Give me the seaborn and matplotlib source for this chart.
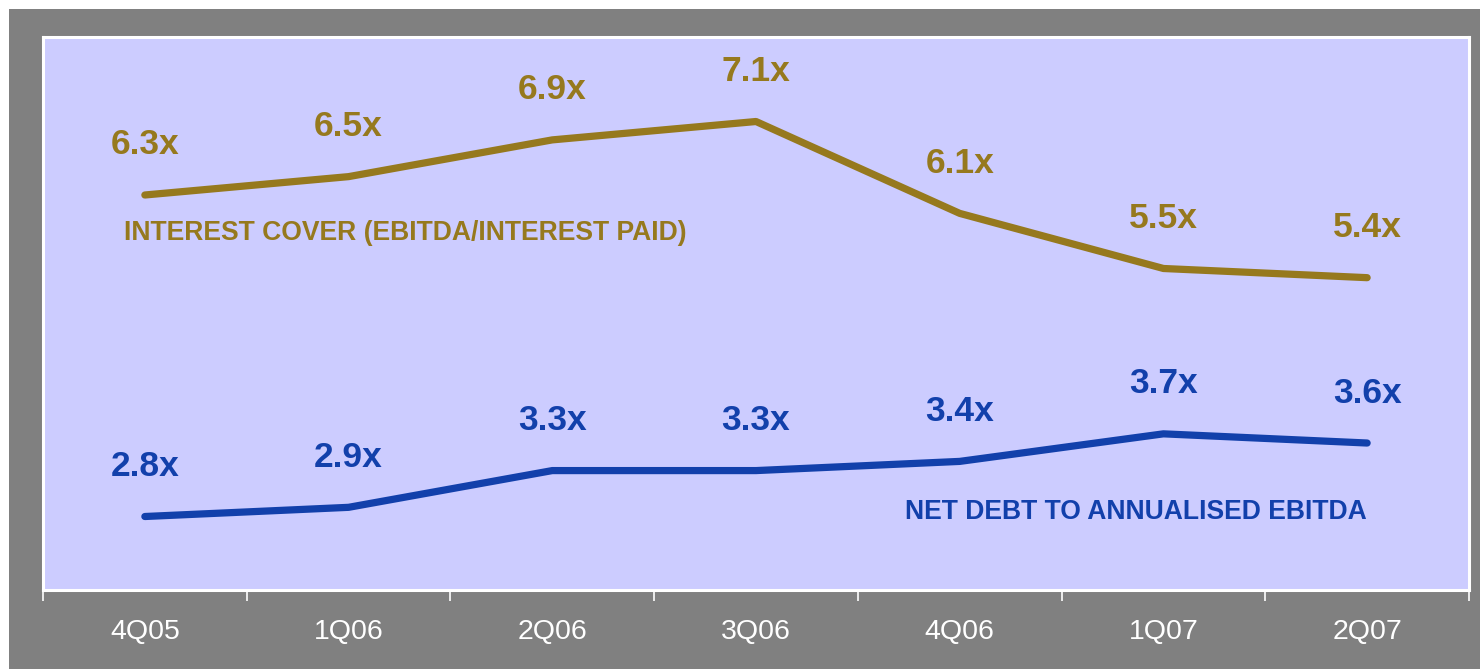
import matplotlib
matplotlib.use("Agg")
import matplotlib.pyplot as plt
import seaborn as sns
import pandas as pd

quarters = ["4Q05", "1Q06", "2Q06", "3Q06", "4Q06", "1Q07", "2Q07"]
interest_cover = [6.3, 6.5, 6.9, 7.1, 6.1, 5.5, 5.4]
net_debt_ebitda = [2.8, 2.9, 3.3, 3.3, 3.4, 3.7, 3.6]
series_names = ["INTEREST COVER (EBITDA/INTEREST PAID)", "NET DEBT TO ANNUALISED EBITDA"]

GOLD = "#96791E"
BLUE = "#1240AB"
LAV = "#CCCCFF"
GRAY = "#808080"

sns.set_theme(style="white")
plt.rcParams["font.family"] = ["Liberation Sans", "DejaVu Sans"]

df = pd.DataFrame({
    "pos": list(range(len(quarters))) * 2,
    "value": interest_cover + net_debt_ebitda,
    "series": [series_names[0]] * len(quarters) + [series_names[1]] * len(quarters),
})

fig = plt.figure(figsize=(14.8, 6.69), dpi=100)
fig.patch.set_facecolor("white")
fig.add_artist(plt.Rectangle((9 / 1480, 0), 1 - 9 / 1480, 1 - 9 / 669,
                             transform=fig.transFigure, facecolor=GRAY, edgecolor="none", zorder=-10))

ax = fig.add_axes([43 / 1480, 79 / 669, 1426 / 1480, 553 / 669])
ax.set_facecolor(LAV)

sns.lineplot(data=df, x="pos", y="value", hue="series", palette=[GOLD, BLUE],
             linewidth=5.2, legend=False, ax=ax)
for ln in ax.lines:
    ln.set_solid_capstyle("round")
    ln.set_solid_joinstyle("round")

for vals, color in [(interest_cover, GOLD), (net_debt_ebitda, BLUE)]:
    for i, v in enumerate(vals):
        ax.annotate(f"{v:.1f}x", (i, v), xytext=(0, 36), textcoords="offset points",
                    ha="center", va="center", fontsize=25.5, fontweight="bold", color=color)

ax.text(0.0568, 0.6456, series_names[0], transform=ax.transAxes, ha="left", va="center",
        fontsize=19.1, fontweight="bold", color=GOLD)
ax.text(0.9285, 0.141, series_names[1], transform=ax.transAxes, ha="right", va="center",
        fontsize=19.1, fontweight="bold", color=BLUE)

ax.set_xlim(-0.5, len(quarters) - 0.5)
ax.set_ylim(2.0, 8.02)
ax.set_xticks(range(len(quarters)))
ax.set_xticklabels(quarters, color="white", fontsize=20.5)
ax.set_xticks([i - 0.5 for i in range(len(quarters) + 1)], minor=True)
ax.tick_params(axis="x", which="major", length=0, pad=21)
ax.tick_params(axis="x", which="minor", length=8, width=1.2, color="white", bottom=True)
ax.set_yticks([])
ax.set_xlabel("")
ax.set_ylabel("")
for side in ["left", "top", "right", "bottom"]:
    ax.spines[side].set_visible(True)
    ax.spines[side].set_color("white")
    ax.spines[side].set_linewidth(2.2)

fig.savefig("out.png", dpi=100, facecolor=fig.get_facecolor())
